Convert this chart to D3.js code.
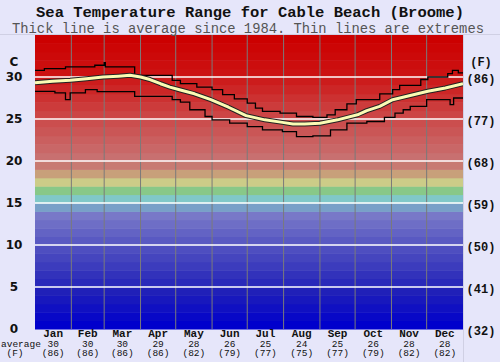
<!DOCTYPE html>
<html>
<head>
<meta charset="utf-8">
<script src="https://cdn.jsdelivr.net/npm/d3@7"></script>
<style>
  body { margin: 0; background: #e6e6fa; }
  svg { display: block; }
</style>
</head>
<body>
<svg class="chart"></svg>
<script>
// months and monthly averages shown under the chart
var months = ["Jan","Feb","Mar","Apr","May","Jun","Jul","Aug","Sep","Oct","Nov","Dec"];
var monthAvgC = [30, 30, 30, 29, 28, 26, 25, 24, 25, 26, 28, 28];
var monthAvgF = [86, 86, 86, 86, 82, 79, 77, 75, 77, 79, 82, 82];
var monthStartDay = [0, 31, 59, 90, 120, 151, 181, 212, 243, 273, 304, 334, 365];

// axis ticks
var cTicks = [0, 5, 10, 15, 20, 25, 30];
var fTicks = [32, 41, 50, 59, 68, 77, 86];

// highest recorded (day of year, deg C)
var maxDays  = [0, 8, 26, 51, 59, 60, 85, 117, 124, 138, 151, 160, 170, 181, 188, 194, 209, 223, 237, 249, 256, 266, 274, 294, 305, 311, 329, 335, 352, 356, 361, 365];
var maxTemps = [30.8, 31.0, 31.2, 31.4, 31.7, 31.2, 30.2, 29.6, 29.2, 28.8, 28.5, 27.9, 27.4, 26.9, 26.3, 25.9, 25.7, 25.3, 25.2, 25.5, 26.1, 26.8, 27.3, 28.0, 28.5, 29.0, 29.7, 30.0, 30.4, 30.8, 30.5, 30.5];

// lowest recorded
var minDays  = [0, 17, 26, 30, 43, 53, 85, 117, 124, 132, 145, 151, 166, 181, 194, 211, 223, 237, 252, 266, 283, 298, 307, 314, 320, 334, 354, 357, 365];
var minTemps = [28.3, 28.1, 27.3, 28.1, 28.5, 28.25, 27.7, 27.3, 27.0, 26.1, 25.3, 24.9, 24.5, 24.1, 23.7, 23.5, 22.9, 23.0, 23.7, 24.5, 24.7, 25.2, 25.7, 26.1, 26.5, 27.3, 26.7, 27.5, 27.5];

// average since 1984
var avgDays  = [0, 15, 30, 44, 58, 71, 81, 90, 98, 107, 115, 124, 136, 150, 165, 180, 196, 211, 220, 230, 243, 258, 275, 283, 294, 305, 320, 335, 350, 365];
var avgTemps = [29.3, 29.5, 29.6, 29.8, 30.0, 30.1, 30.2, 30.0, 29.7, 29.2, 28.8, 28.45, 28.0, 27.3, 26.4, 25.4, 24.9, 24.6, 24.4, 24.4, 24.5, 24.9, 25.5, 26.0, 26.5, 27.3, 27.8, 28.3, 28.7, 29.2];

var width = 500, height = 362;
var plot = {left: 35, right: 463, top: 35, bottom: 329};

var svg = d3.select(".chart").attr("width", width).attr("height", height);

var x = d3.scaleLinear().domain([0, 365]).range([plot.left, plot.right]);
var y = d3.scaleLinear().domain([0, 35]).range([plot.bottom, plot.top]);

// colour of each 1 degree band
var bandColor = d3.scaleLinear()
  .domain([0.5, 4.5, 9.5, 13.5, 14.5, 15.5, 16.5, 17.5, 18.5, 19.5, 20.5, 25.5, 30.5, 34.5])
  .range(["#0000cc", "#2020b8", "#4e4ec0", "#7878c8", "#78a0c8", "#80c8c8", "#88c888", "#cccc88",
          "#c8a07a", "#c87a72", "#c87070", "#cc4545", "#cc1212", "#cc0000"]);

var bands = d3.range(0, 35);
svg.append("g").selectAll("rect")
  .data(bands)
  .enter().append("rect")
  .attr("x", plot.left)
  .attr("width", plot.right - plot.left)
  .attr("y", function(d) { return y(d + 1); })
  .attr("height", function(d) { return y(d) - y(d + 1) + 0.5; })
  .attr("fill", function(d) { return bandColor(d + 0.5); });

// faint frame lines
svg.append("line").attr("x1", 0).attr("x2", width).attr("y1", plot.top - 0.5).attr("y2", plot.top - 0.5)
  .attr("stroke", "#d0d0e4").attr("stroke-width", 1);
svg.append("line").attr("x1", plot.right + 0.5).attr("x2", plot.right + 0.5).attr("y1", plot.top).attr("y2", height)
  .attr("stroke", "#d0d0e4").attr("stroke-width", 1);

// month separators
svg.append("g").selectAll("line")
  .data(monthStartDay.slice(1, 12))
  .enter().append("line")
  .attr("x1", function(d) { return x(d); })
  .attr("x2", function(d) { return x(d); })
  .attr("y1", plot.top)
  .attr("y2", plot.bottom)
  .attr("stroke", "#7a7a7a")
  .attr("stroke-width", 1);

// horizontal grid
svg.append("g").selectAll("line")
  .data(cTicks.slice(1))
  .enter().append("line")
  .attr("x1", plot.left)
  .attr("x2", plot.right)
  .attr("y1", function(d) { return y(d); })
  .attr("y2", function(d) { return y(d); })
  .attr("stroke", "#ffffff")
  .attr("stroke-width", 1.5);

svg.append("clipPath").attr("id", "plotclip").append("rect")
  .attr("x", plot.left).attr("y", plot.top)
  .attr("width", plot.right - plot.left).attr("height", plot.bottom - plot.top);

var stepLine = d3.line()
  .x(function(d) { return x(d[0]); })
  .y(function(d) { return y(d[1]); })
  .curve(d3.curveStepAfter);

var avgLine = d3.line()
  .x(function(d) { return x(d[0]); })
  .y(function(d) { return y(d[1]); });

var lines = svg.append("g").attr("clip-path", "url(#plotclip)");

lines.append("path")
  .datum(d3.zip(maxDays, maxTemps))
  .attr("d", stepLine)
  .attr("fill", "none").attr("stroke", "#000").attr("stroke-width", 1.3);

lines.append("path")
  .datum(d3.zip(minDays, minTemps))
  .attr("d", stepLine)
  .attr("fill", "none").attr("stroke", "#000").attr("stroke-width", 1.3);

lines.append("path")
  .datum(d3.zip(avgDays, avgTemps))
  .attr("d", avgLine)
  .attr("fill", "none").attr("stroke", "#222").attr("stroke-width", 5)
  .attr("stroke-linejoin", "round");

lines.append("path")
  .datum(d3.zip(avgDays, avgTemps))
  .attr("d", avgLine)
  .attr("fill", "none").attr("stroke", "#fbfbb4").attr("stroke-width", 3)
  .attr("stroke-linejoin", "round");

// titles
svg.append("text")
  .attr("x", 250).attr("y", 16.5)
  .attr("text-anchor", "middle")
  .style("font", "bold 15.5px 'Liberation Mono', monospace")
  .attr("fill", "#111")
  .text("Sea Temperature Range for Cable Beach (Broome)");

svg.append("text")
  .attr("x", 248).attr("y", 32.7)
  .attr("text-anchor", "middle")
  .style("font", "13.8px 'Liberation Mono', monospace")
  .attr("fill", "#555")
  .text("Thick line is average since 1984. Thin lines are extremes");

// left axis (C)
svg.append("g").selectAll("text")
  .data(cTicks)
  .enter().append("text")
  .attr("x", 14)
  .attr("y", function(d) { return y(d); })
  .attr("dy", "0.36em")
  .attr("text-anchor", "middle")
  .style("font", "bold 12px 'DejaVu Sans', sans-serif")
  .attr("fill", "#111")
  .text(function(d) { return d; });

svg.append("text")
  .attr("x", 14).attr("y", 62).attr("dy", "0.36em")
  .attr("text-anchor", "middle")
  .style("font", "bold 12px 'DejaVu Sans', sans-serif")
  .attr("fill", "#111")
  .text("C");

// right axis (F)
svg.append("g").selectAll("text")
  .data(cTicks)
  .enter().append("text")
  .attr("x", 481)
  .attr("y", function(d) { return y(d) + 1.5; })
  .attr("dy", "0.36em")
  .attr("text-anchor", "middle")
  .style("font", "bold 12px 'Liberation Mono', monospace")
  .attr("fill", "#111")
  .text(function(d, i) { return "(" + fTicks[i] + ")"; });

svg.append("text")
  .attr("x", 481).attr("y", 62).attr("dy", "0.36em")
  .attr("text-anchor", "middle")
  .style("font", "bold 12px 'Liberation Mono', monospace")
  .attr("fill", "#111")
  .text("(F)");

// month labels with averages
var monthMid = function(i) { return x((monthStartDay[i] + monthStartDay[i + 1]) / 2); };

var mg = svg.append("g").selectAll("g")
  .data(months)
  .enter().append("g");

mg.append("text")
  .attr("x", function(d, i) { return monthMid(i); })
  .attr("y", 337)
  .attr("text-anchor", "middle")
  .style("font", "bold 11px 'Liberation Mono', monospace")
  .attr("fill", "#111")
  .text(function(d) { return d; });

mg.append("text")
  .attr("x", function(d, i) { return monthMid(i); })
  .attr("y", 346.5)
  .attr("text-anchor", "middle")
  .style("font", "9.5px 'Liberation Mono', monospace")
  .attr("fill", "#111")
  .text(function(d, i) { return monthAvgC[i]; });

mg.append("text")
  .attr("x", function(d, i) { return monthMid(i); })
  .attr("y", 356)
  .attr("text-anchor", "middle")
  .style("font", "9.5px 'Liberation Mono', monospace")
  .attr("fill", "#111")
  .text(function(d, i) { return "(" + monthAvgF[i] + ")"; });

svg.append("text")
  .attr("x", 1).attr("y", 346.5)
  .style("font", "9.5px 'Liberation Mono', monospace")
  .attr("fill", "#111")
  .text("average");

svg.append("text")
  .attr("x", 15).attr("y", 356)
  .attr("text-anchor", "middle")
  .style("font", "9.5px 'Liberation Mono', monospace")
  .attr("fill", "#111")
  .text("(F)");
</script>
</body>
</html>
